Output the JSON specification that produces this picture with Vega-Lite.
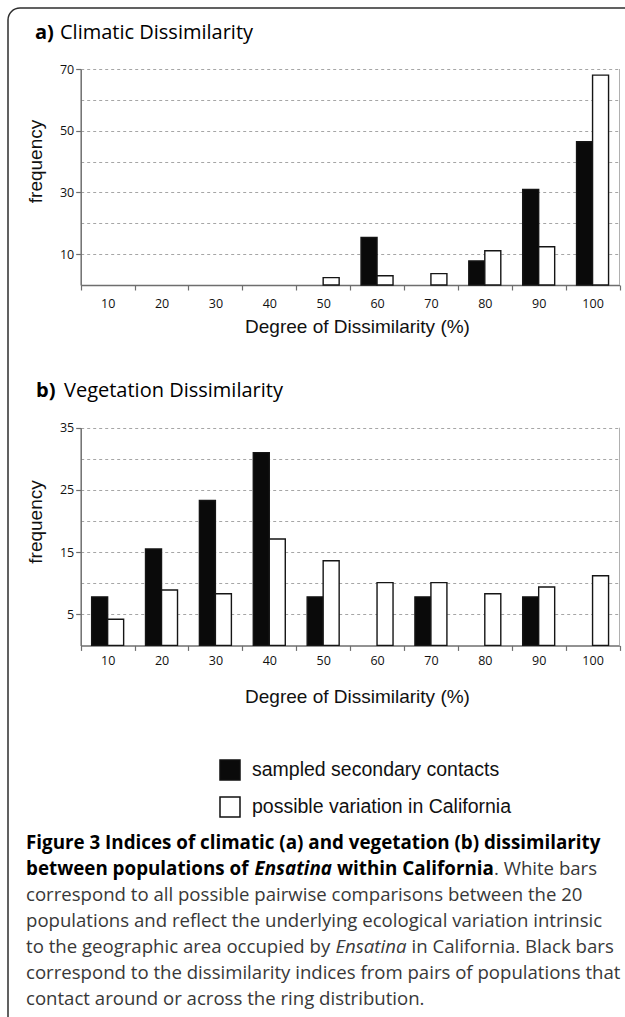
{
  "$schema": "https://vega.github.io/schema/vega-lite/v6.json",
  "width": 640,
  "height": 1030,
  "autosize": {"type": "none"},
  "padding": {"left": 8, "top": 8, "right": -23, "bottom": -21},
  "background": "white",
  "view": {"stroke": "#2e2e2e", "strokeWidth": 1.5, "cornerRadius": 12, "fill": "white"},
  "config": {
    "font": "Liberation Sans",
    "axis": {
      "labelFont": "Open Sans", "labelFontSize": 12.5, "labelColor": "#111111",
      "titleFont": "Liberation Sans", "titleFontSize": 19, "titleFontWeight": "normal", "titleColor": "#111111",
      "domainColor": "#6e6e6e", "domainWidth": 1.5, "tickColor": "#6e6e6e", "tickSize": 5, "tickWidth": 1.2,
      "gridColor": "#a6a6a6", "gridDash": [3, 3], "gridWidth": 1
    }
  },
  "datasets": {
    "climatic": [
      {"bin": 50, "series": "possible variation in California", "frequency": 2.4},
      {"bin": 60, "series": "sampled secondary contacts", "frequency": 15.4},
      {"bin": 60, "series": "possible variation in California", "frequency": 3.0},
      {"bin": 70, "series": "possible variation in California", "frequency": 3.7},
      {"bin": 80, "series": "sampled secondary contacts", "frequency": 7.8},
      {"bin": 80, "series": "possible variation in California", "frequency": 11.1},
      {"bin": 90, "series": "sampled secondary contacts", "frequency": 31.0},
      {"bin": 90, "series": "possible variation in California", "frequency": 12.4},
      {"bin": 100, "series": "sampled secondary contacts", "frequency": 46.4},
      {"bin": 100, "series": "possible variation in California", "frequency": 68.0}
    ],
    "vegetation": [
      {"bin": 10, "series": "sampled secondary contacts", "frequency": 7.8},
      {"bin": 10, "series": "possible variation in California", "frequency": 4.2},
      {"bin": 20, "series": "sampled secondary contacts", "frequency": 15.5},
      {"bin": 20, "series": "possible variation in California", "frequency": 8.9},
      {"bin": 30, "series": "sampled secondary contacts", "frequency": 23.3},
      {"bin": 30, "series": "possible variation in California", "frequency": 8.3},
      {"bin": 40, "series": "sampled secondary contacts", "frequency": 31.0},
      {"bin": 40, "series": "possible variation in California", "frequency": 17.1},
      {"bin": 50, "series": "sampled secondary contacts", "frequency": 7.8},
      {"bin": 50, "series": "possible variation in California", "frequency": 13.6},
      {"bin": 60, "series": "possible variation in California", "frequency": 10.1},
      {"bin": 70, "series": "sampled secondary contacts", "frequency": 7.8},
      {"bin": 70, "series": "possible variation in California", "frequency": 10.1},
      {"bin": 80, "series": "possible variation in California", "frequency": 8.3},
      {"bin": 90, "series": "sampled secondary contacts", "frequency": 7.8},
      {"bin": 90, "series": "possible variation in California", "frequency": 9.4},
      {"bin": 100, "series": "possible variation in California", "frequency": 11.2}
    ],
    "headings": [
      {"panel": "a)", "name": "Climatic Dissimilarity"},
      {"panel": "b)", "name": "Vegetation Dissimilarity"}
    ],
    "caption": [
      {"line": 1, "segment": 1, "part": "heading", "text": "Figure 3 Indices of climatic (a) and vegetation (b) dissimilarity"},
      {"line": 2, "segment": 1, "part": "heading", "text": "between populations of"},
      {"line": 2, "segment": 2, "part": "heading", "text": "Ensatina"},
      {"line": 2, "segment": 3, "part": "heading", "text": "within California"},
      {"line": 2, "segment": 4, "part": "body", "text": ". White bars"},
      {"line": 3, "segment": 1, "part": "body", "text": "correspond to all possible pairwise comparisons between the 20"},
      {"line": 4, "segment": 1, "part": "body", "text": "populations and reflect the underlying ecological variation intrinsic"},
      {"line": 5, "segment": 1, "part": "body", "text": "to the geographic area occupied by"},
      {"line": 5, "segment": 2, "part": "body", "text": "Ensatina"},
      {"line": 5, "segment": 3, "part": "body", "text": "in California. Black bars"},
      {"line": 6, "segment": 1, "part": "body", "text": "correspond to the dissimilarity indices from pairs of populations that"},
      {"line": 7, "segment": 1, "part": "body", "text": "contact around or across the ring distribution."}
    ]
  },
  "layer": [
    {
      "layer": [
        {
          "data": {"name": "climatic"},
          "mark": {"type": "bar", "stroke": "#151515", "strokeWidth": 1.4},
          "encoding": {
            "x": {
              "field": "bin", "type": "ordinal",
              "scale": {"domain": [10, 20, 30, 40, 50, 60, 70, 80, 90, 100], "range": [72.7, 611.5], "paddingInner": 0, "paddingOuter": 0},
              "axis": {"orient": "bottom", "offset": -753, "title": "Degree of Dissimilarity (%)", "tickBand": "extent", "labelAngle": 0, "labelPadding": 7, "titlePadding": 8, "titleX": 349, "grid": false}
            },
            "xOffset": {
              "field": "series", "type": "nominal",
              "scale": {"domain": ["sampled secondary contacts", "possible variation in California"], "paddingOuter": 0.684, "paddingInner": 0}
            },
            "y": {
              "field": "frequency", "type": "quantitative",
              "scale": {"domain": [0, 70], "range": [277, 61], "nice": false},
              "axis": {
                "orient": "left", "offset": -72.7, "values": [10, 20, 30, 40, 50, 60, 70],
                "labelExpr": "datum.value % 20 == 10 ? datum.label : ''",
                "tickOpacity": {"condition": {"test": "datum.value % 20 == 10", "value": 1}, "value": 0},
                "labelPadding": 2, "grid": true, "title": "frequency", "titleY": 153, "titlePadding": 14
              }
            },
            "fill": {
              "field": "series", "type": "nominal",
              "scale": {"domain": ["sampled secondary contacts", "possible variation in California"], "range": ["#0a0a0a", "#ffffff"]},
              "legend": {
                "orient": "none", "legendX": 211, "legendY": 751, "title": null, "padding": 0,
                "symbolType": "square", "symbolSize": 400, "symbolStrokeColor": "#111111", "symbolStrokeWidth": 1.5,
                "labelFont": "Liberation Sans", "labelFontSize": 19.5, "labelColor": "#111111", "labelOffset": 11, "rowPadding": 11,
                "labelLimit": 400
              }
            }
          }
        },
        {
          "data": {"values": [{"edge": "right"}]},
          "mark": {"type": "rule", "color": "#b0b0b0", "strokeWidth": 1},
          "encoding": {
            "x": {"datum": 100, "type": "ordinal", "bandPosition": 1},
            "y": {"datum": 0, "type": "quantitative"},
            "y2": {"datum": 70}
          }
        },
        {
          "data": {"name": "headings"},
          "transform": [{"filter": "datum.panel == 'a)'"}],
          "mark": {"type": "text", "align": "left", "baseline": "alphabetic", "font": "Open Sans", "fontSize": 20, "fontWeight": "bold", "color": "#000000", "dx": -45.7, "dy": -29.7},
          "encoding": {
            "text": {"field": "panel"},
            "x": {"datum": 10, "type": "ordinal", "bandPosition": 0},
            "y": {"datum": 70, "type": "quantitative"}
          }
        },
        {
          "data": {"name": "headings"},
          "transform": [{"filter": "datum.panel == 'a)'"}],
          "mark": {"type": "text", "align": "left", "baseline": "alphabetic", "font": "Open Sans", "fontSize": 20, "color": "#000000", "dx": -20.7, "dy": -29.7},
          "encoding": {
            "text": {"field": "name"},
            "x": {"datum": 10, "type": "ordinal", "bandPosition": 0},
            "y": {"datum": 70, "type": "quantitative"}
          }
        }
      ]
    },
    {
      "layer": [
        {
          "data": {"name": "vegetation"},
          "mark": {"type": "bar", "stroke": "#151515", "strokeWidth": 1.4},
          "encoding": {
            "x": {
              "field": "bin", "type": "ordinal",
              "scale": {"domain": [10, 20, 30, 40, 50, 60, 70, 80, 90, 100], "range": [72.7, 611.5], "paddingInner": 0, "paddingOuter": 0},
              "axis": {"orient": "bottom", "offset": -392.6, "title": "Degree of Dissimilarity (%)", "tickBand": "extent", "labelAngle": 0, "labelPadding": 4, "titlePadding": 21, "titleX": 349, "grid": false}
            },
            "xOffset": {
              "field": "series", "type": "nominal",
              "scale": {"domain": ["sampled secondary contacts", "possible variation in California"], "paddingOuter": 0.684, "paddingInner": 0}
            },
            "y": {
              "field": "frequency", "type": "quantitative",
              "scale": {"domain": [0, 35], "range": [637.4, 419.7], "nice": false},
              "axis": {
                "orient": "left", "offset": -72.7, "values": [5, 10, 15, 20, 25, 30, 35],
                "labelExpr": "datum.value % 10 == 5 ? datum.label : ''",
                "tickOpacity": {"condition": {"test": "datum.value % 10 == 5", "value": 1}, "value": 0},
                "labelPadding": 2, "grid": true, "title": "frequency", "titleY": 513.5, "titlePadding": 14
              }
            },
            "fill": {
              "field": "series", "type": "nominal",
              "scale": {"domain": ["sampled secondary contacts", "possible variation in California"], "range": ["#0a0a0a", "#ffffff"]},
              "legend": {
                "orient": "none", "legendX": 211, "legendY": 751, "title": null, "padding": 0,
                "symbolType": "square", "symbolSize": 400, "symbolStrokeColor": "#111111", "symbolStrokeWidth": 1.5,
                "labelFont": "Liberation Sans", "labelFontSize": 19.5, "labelColor": "#111111", "labelOffset": 11, "rowPadding": 11,
                "labelLimit": 400
              }
            }
          }
        },
        {
          "data": {"values": [{"edge": "right"}]},
          "mark": {"type": "rule", "color": "#b0b0b0", "strokeWidth": 1},
          "encoding": {
            "x": {"datum": 100, "type": "ordinal", "bandPosition": 1},
            "y": {"datum": 0, "type": "quantitative"},
            "y2": {"datum": 35}
          }
        },
        {
          "data": {"name": "headings"},
          "transform": [{"filter": "datum.panel == 'b)'"}],
          "mark": {"type": "text", "align": "left", "baseline": "alphabetic", "font": "Open Sans", "fontSize": 20, "fontWeight": "bold", "color": "#000000", "dx": -44.7, "dy": -31},
          "encoding": {
            "text": {"field": "panel"},
            "x": {"datum": 10, "type": "ordinal", "bandPosition": 0},
            "y": {"datum": 35, "type": "quantitative"}
          }
        },
        {
          "data": {"name": "headings"},
          "transform": [{"filter": "datum.panel == 'b)'"}],
          "mark": {"type": "text", "align": "left", "baseline": "alphabetic", "font": "Open Sans", "fontSize": 20, "color": "#000000", "dx": -16.7, "dy": -31},
          "encoding": {
            "text": {"field": "name"},
            "x": {"datum": 10, "type": "ordinal", "bandPosition": 0},
            "y": {"datum": 35, "type": "quantitative"}
          }
        }
      ]
    },
    {
      "data": {"name": "caption"},
      "encoding": {
        "text": {"field": "text"},
        "x": {"datum": 0, "type": "quantitative", "scale": {"domain": [0, 1], "range": [18, 610]}, "axis": null},
        "y": {"field": "line", "type": "quantitative", "scale": {"domain": [1, 7], "range": [834.5, 990.5], "nice": false, "zero": false}, "axis": null}
      },
      "layer": [
        {
          "transform": [{"filter": "datum.part == 'heading' && datum.segment == 1"}],
          "mark": {"type": "text", "align": "left", "baseline": "middle", "font": "Open Sans", "fontSize": 18.8, "fontWeight": "bold", "color": "#000000"}
        },
        {
          "transform": [{"filter": "datum.line == 2 && datum.segment == 2"}],
          "mark": {"type": "text", "align": "left", "baseline": "middle", "font": "Open Sans", "fontSize": 18.8, "fontWeight": "bold", "fontStyle": "italic", "color": "#000000", "dx": 228.6}
        },
        {
          "transform": [{"filter": "datum.line == 2 && datum.segment == 3"}],
          "mark": {"type": "text", "align": "left", "baseline": "middle", "font": "Open Sans", "fontSize": 18.8, "fontWeight": "bold", "color": "#000000", "dx": 311}
        },
        {
          "transform": [{"filter": "datum.line == 2 && datum.segment == 4"}],
          "mark": {"type": "text", "align": "left", "baseline": "middle", "font": "Open Sans", "fontSize": 18.6, "color": "#383838", "dx": 468}
        },
        {
          "transform": [{"filter": "datum.part == 'body' && datum.segment == 1"}],
          "mark": {"type": "text", "align": "left", "baseline": "middle", "font": "Open Sans", "fontSize": 18.6, "color": "#383838"}
        },
        {
          "transform": [{"filter": "datum.line == 5 && datum.segment == 2"}],
          "mark": {"type": "text", "align": "left", "baseline": "middle", "font": "Open Sans", "fontSize": 18.6, "fontStyle": "italic", "color": "#383838", "dx": 309.5}
        },
        {
          "transform": [{"filter": "datum.line == 5 && datum.segment == 3"}],
          "mark": {"type": "text", "align": "left", "baseline": "middle", "font": "Open Sans", "fontSize": 18.6, "color": "#383838", "dx": 385.5}
        }
      ]
    }
  ],
  "resolve": {
    "scale": {"x": "independent", "y": "independent"},
    "axis": {"x": "independent", "y": "independent"}
  }
}
